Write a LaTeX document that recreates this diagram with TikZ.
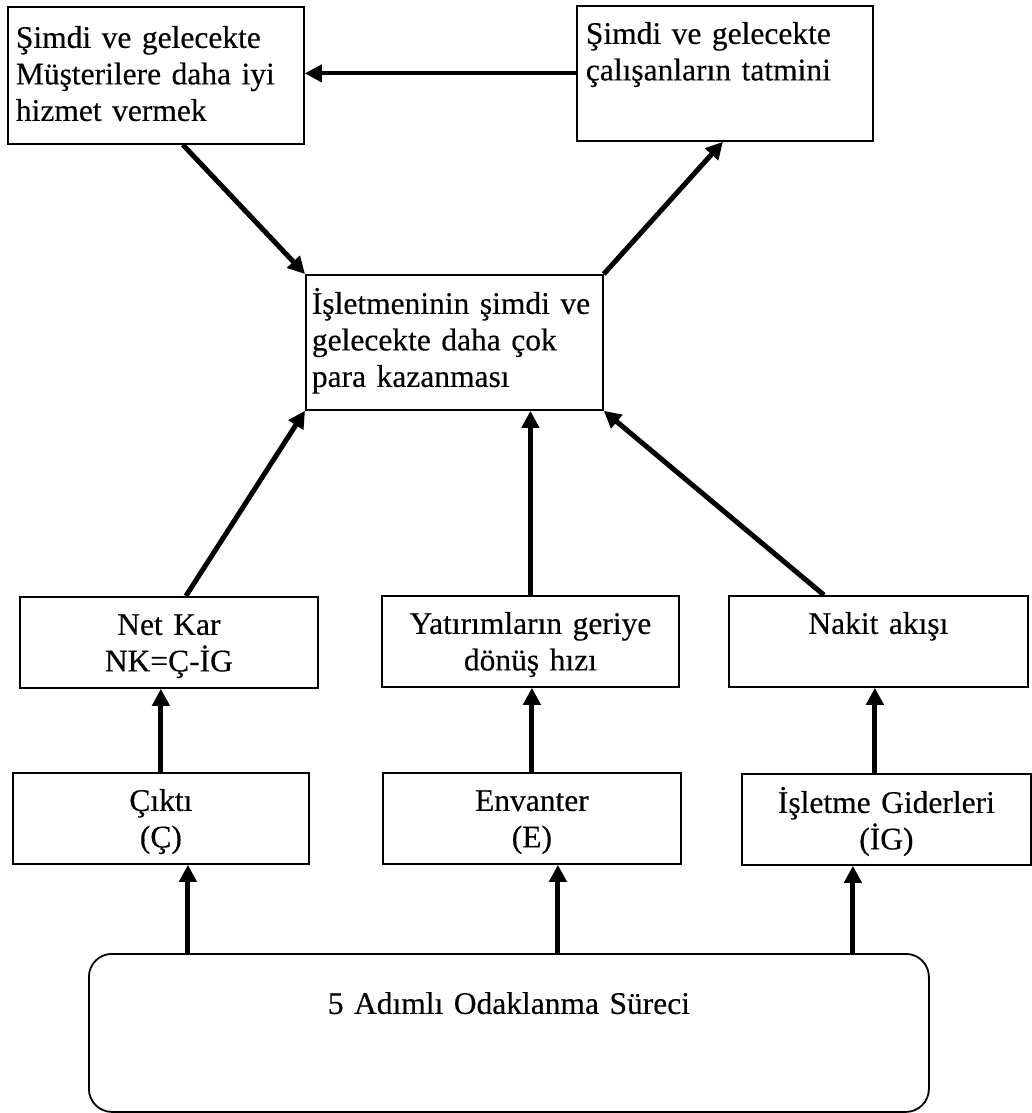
\documentclass[tikz,border=0pt]{standalone}
\usepackage{fontspec}
\setmainfont{Liberation Serif}[FakeBold=0.35]
\usetikzlibrary{arrows.meta}
\begin{document}
\begin{tikzpicture}[x=1pt,y=-1pt,
  card/.style={draw, line width=1.8pt, inner ysep=0pt, inner xsep=8pt,
    anchor=north west, font=\fontsize{31.5}{36.5}\selectfont},
  lcard/.style={card, align=left},
  ccard/.style={card, align=center},
  link/.style={line width=5pt, -{Triangle[length=17pt,width=17pt]}}]
\useasboundingbox (0,0) rectangle (1031,1113);

% goals
\node[lcard, text width=280pt, text height=41pt, text depth=96pt] (tl) at (7,6)
  {Şimdi ve gelecekte\\Müşterilere daha iyi\\hizmet vermek};
\node[lcard, inner xsep=9pt, text width=278pt, text height=38pt, text depth=97pt] (tr) at (576,5)
  {Şimdi ve gelecekte\\çalışanların tatmini};
\node[lcard, inner xsep=6pt, text width=285pt, text height=39pt, text depth=96pt] (mid) at (305,274)
  {İşletmeninin şimdi ve\\gelecekte daha çok\\para kazanması};

% financial measures
\node[ccard, text width=282pt, text height=38pt, text depth=53pt] (nk) at (19,596)
  {Net Kar\\NK=Ç-İG};
\node[ccard, text width=281pt, text height=38pt, text depth=53pt] (yat) at (381,595)
  {Yatırımların geriye\\dönüş hızı};
\node[ccard, text width=283pt, text height=38pt, text depth=53pt] (nak) at (728,595)
  {Nakit akışı};

% operational measures
\node[ccard, text width=280pt, text height=38pt, text depth=53pt] (ck) at (12,772)
  {Çıktı\\(Ç)};
\node[ccard, text width=282pt, text height=38pt, text depth=53pt] (env) at (382,772)
  {Envanter\\(E)};
\node[ccard, text width=273pt, text height=39pt, text depth=52pt] (ig) at (741,773)
  {İşletme Giderleri\\(İG)};

% process
\node[ccard, rounded corners=23pt, text width=824pt, text height=60pt, text depth=98pt] (proc) at (88,953)
  {5 Adımlı Odaklanma Süreci};

% connectors
\draw[link, line width=4pt] (tr.west) -- (tr.west -| tl.east);
\draw[link] ([xshift=27pt]tl.south) -- (mid.north west);
\draw[link] (mid.north east) -- ([xshift=-2pt]tr.south);

\draw[link] ([xshift=17pt]nk.north) -- (mid.south west);
\draw[link] (yat.north) -- (yat.north |- mid.south);
\draw[link] ([xshift=-54.5pt]nak.north) -- (mid.south east);

\draw[link] (ck.north) -- (ck.north |- nk.south);
\draw[link] (env.north) -- (env.north |- yat.south);
\draw[link] ([xshift=-11.5pt]ig.north) -- ([xshift=-11.5pt]ig.north |- nak.south);

\draw[link] ([xshift=27pt]ck.south |- proc.north) -- ([xshift=27pt]ck.south);
\draw[link] ([xshift=26pt]env.south |- proc.north) -- ([xshift=26pt]env.south);
\draw[link] ([xshift=-33.5pt]ig.south |- proc.north) -- ([xshift=-33.5pt]ig.south);
\end{tikzpicture}
\end{document}
